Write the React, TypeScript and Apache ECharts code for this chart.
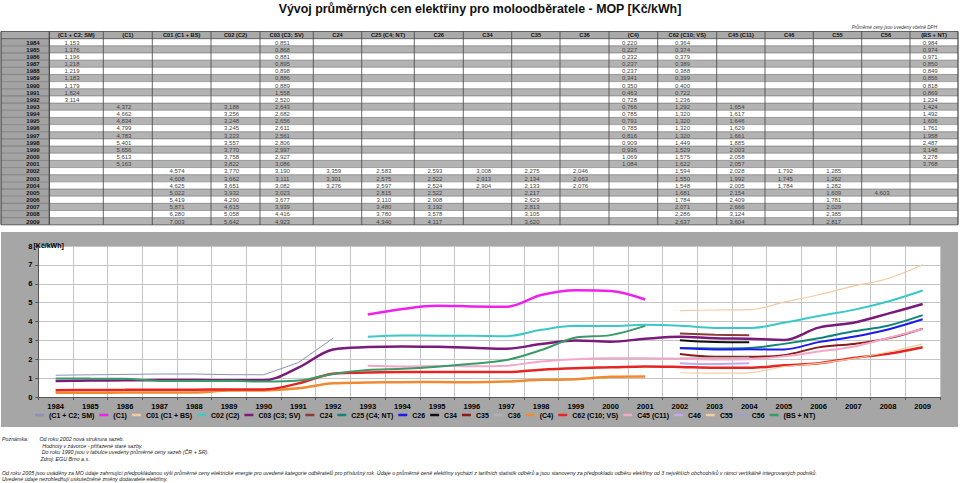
import React, { useEffect, useRef } from "react";
import * as echarts from "echarts";

const N = null;
const years = ["1984","1985","1986","1987","1988","1989","1990","1991","1992","1993","1994","1995","1996","1997","1998","1999","2000","2001","2002","2003","2004","2005","2006","2007","2008","2009"];
const yTicks = [0, 1, 2, 3, 4, 5, 6, 7, 8];

const seriesNames = ["(C1 + C2; SM)","(C1)","C01 (C1 + BS)","C02 (C2)","C03 (C3; SV)","C24","C25 (C4; NT)","C26","C34","C35","C36","(C4)","C62 (C10; VS)","C45 (C11)","C46","C55","C56","(BS + NT)"];

const sm   = [1.153,1.176,1.196,1.218,1.219,1.183,1.179,1.824,3.114,N,N,N,N,N,N,N,N,N,N,N,N,N,N,N,N,N];
const c1   = [N,N,N,N,N,N,N,N,N,4.372,4.662,4.834,4.799,4.783,5.401,5.656,5.613,5.163,N,N,N,N,N,N,N,N];
const c01  = [N,N,N,N,N,N,N,N,N,N,N,N,N,N,N,N,N,N,4.574,4.608,4.625,5.022,5.419,5.871,6.280,7.003];
const c02  = [N,N,N,N,N,N,N,N,N,3.188,3.256,3.248,3.245,3.223,3.557,3.770,3.758,3.822,3.770,3.662,3.651,3.932,4.290,4.615,5.058,5.642];
const c03  = [0.851,0.868,0.881,0.895,0.898,0.886,0.889,1.558,2.520,2.643,2.682,2.656,2.611,2.561,2.806,2.997,2.927,3.086,3.190,3.111,3.082,3.023,3.677,3.939,4.416,4.923];
const c24  = [N,N,N,N,N,N,N,N,N,N,N,N,N,N,N,N,N,N,3.359,3.301,3.276,N,N,N,N,N];
const c25  = [N,N,N,N,N,N,N,N,N,N,N,N,N,N,N,N,N,N,2.583,2.575,2.597,2.815,3.110,3.480,3.780,4.340];
const c26  = [N,N,N,N,N,N,N,N,N,N,N,N,N,N,N,N,N,N,2.593,2.522,2.524,2.522,2.908,3.192,3.578,4.117];
const c34  = [N,N,N,N,N,N,N,N,N,N,N,N,N,N,N,N,N,N,3.008,2.913,2.904,N,N,N,N,N];
const c35  = [N,N,N,N,N,N,N,N,N,N,N,N,N,N,N,N,N,N,2.275,2.134,2.133,2.217,2.629,2.813,3.105,3.620];
const c36  = [N,N,N,N,N,N,N,N,N,N,N,N,N,N,N,N,N,N,2.046,2.063,2.076,N,N,N,N,N];
const c4   = [0.220,0.227,0.232,0.237,0.237,0.341,0.350,0.463,0.728,0.766,0.785,0.791,0.785,0.816,0.909,0.936,1.069,1.084,N,N,N,N,N,N,N,N];
const c62  = [0.364,0.374,0.379,0.389,0.388,0.399,0.400,0.722,1.236,1.292,1.320,1.320,1.320,1.320,1.449,1.529,1.575,1.622,1.594,1.550,1.548,1.681,1.784,2.071,2.286,2.637];
const c45  = [N,N,N,N,N,N,N,N,N,1.654,1.617,1.646,1.629,1.661,1.885,2.003,2.058,2.057,2.028,1.992,2.005,2.154,2.409,2.666,3.124,3.604];
const c46  = [N,N,N,N,N,N,N,N,N,N,N,N,N,N,N,N,N,N,1.792,1.745,1.784,N,N,N,N,N];
const c55  = [N,N,N,N,N,N,N,N,N,N,N,N,N,N,N,N,N,N,1.285,1.262,1.282,1.609,1.781,2.029,2.385,2.817];
const c56  = [N,N,N,N,N,N,N,N,N,N,N,N,N,N,N,N,N,N,N,N,N,4.603,N,N,N,N];
const bsnt = [0.984,0.974,0.971,0.850,0.849,0.856,0.818,0.869,1.224,1.424,1.492,1.606,1.761,1.958,2.487,3.148,3.278,3.768,N,N,N,N,N,N,N,N];

const seriesData = [sm, c1, c01, c02, c03, c24, c25, c26, c34, c35, c36, c4, c62, c45, c46, c55, c56, bsnt];

const titleText = "Vývoj průměrných cen elektřiny pro moloodběratele - MOP [Kč/kWh]";
const dphNote = "Průměrné ceny jsou uvedeny včetně DPH";
const unitLabel = "[Kč/kWh]";
const noteLines = [
  "Od roku 2002 nová strukrura sazeb.",
  "Hodnoty v závorce - přiřazené staré sazby.",
  "Do roku 1990 jsou v tabulce uvedeny průměrné ceny sazeb (ČR + SR).",
  "Zdroj: EGU Brno a.s.",
];
const noteLabel = "Poznámka:";
const footLines = [
  "Od roku 2005 jsou uváděny za MO údaje zahrnující předpokládanou výši průměrné ceny elektrické energie pro uvedené kategorie odběratelů pro příslušný rok. Údaje o průměrné ceně elektřiny vychází z tarifních statistik odběrů a jsou stanoveny za předpokladu odběru elektřiny od 3 největších obchodníků v rámci vertikálně integrovaných podniků.",
  "Uvedené údaje nezohledňují uskutečněné změny dodavatele elektřiny.",
];

// styles (not data)
const colors = ["#8f8fb8","#ee22ee","#f7c9a0","#3cc8c8","#7a1a7a","#8b3a3a","#12857a","#1a1aee","#111111","#8b1a1a","#b0b0b0","#f08a30","#e52424","#f4a6c8","#c7a6ee","#f0cfa0","#a0a0c8","#3a9a68"];
const widths = [1, 2.5, 1.2, 2, 2.5, 2, 2, 2, 2, 2, 2, 2.5, 2.5, 2, 2, 1.2, 1, 2];
const smooths = [false, 0.35, 0.35, 0.35, 0.35, 0.35, 0.35, 0.35, 0.35, 0.35, 0.35, 0.35, 0.35, 0.35, 0.35, 0.35, 0.35, 0.35];

// table layout
const colEdges = [1, 49.3, 103.3, 152.3, 211, 260, 313.3, 361.7, 414.3, 463.3, 511.7, 560, 609, 657.7, 716.7, 765, 813.3, 861.7, 910, 958];
const tableTop = 31.5;
const rowH = 7.16;
const FONT = "'Liberation Sans', Arial, sans-serif";

function fmt(v: number) {
  return v.toFixed(3).replace(".", ",");
}

function buildGraphic() {
  const g: any[] = [];
  const nRows = years.length + 1;
  const tableW = colEdges[colEdges.length - 1] - colEdges[0];
  for (let r = 0; r < nRows; r++) {
    const y = tableTop + r * rowH;
    const fill = r === 0 ? "#a9a9a9" : (r % 2 === 0 ? "#b3b3b3" : "#ffffff");
    g.push({ type: "rect", z: -5, shape: { x: colEdges[0], y, width: tableW, height: rowH }, style: { fill } });
    if (r > 0) {
      g.push({ type: "rect", z: -5, shape: { x: colEdges[0], y, width: colEdges[1] - colEdges[0], height: rowH }, style: { fill: "#a3a3a3" } });
    }
  }
  for (let r = 0; r <= nRows; r++) {
    const y = tableTop + r * rowH;
    g.push({ type: "line", z: -4, shape: { x1: colEdges[0], y1: y, x2: colEdges[colEdges.length - 1], y2: y }, style: { stroke: "#555", lineWidth: r === 0 || r === nRows || r === 1 ? 0.9 : 0.5 } });
  }
  const tableBottom = tableTop + nRows * rowH;
  colEdges.forEach((x, i) => {
    g.push({ type: "line", z: -4, shape: { x1: x, y1: tableTop, x2: x, y2: tableBottom }, style: { stroke: "#444", lineWidth: i === 1 || i === 0 || i === colEdges.length - 1 ? 1.2 : 0.8 } });
  });
  seriesNames.forEach((name, c) => {
    const x0 = colEdges[c + 1], x1 = colEdges[c + 2];
    g.push({ type: "text", z: -3, x: (x0 + x1) / 2, y: tableTop + rowH / 2 + 0.3, style: { text: name, fontSize: 5.7, fontWeight: "bold", fontFamily: FONT, fill: "#111", align: "center", verticalAlign: "middle" } });
  });
  years.forEach((yr, r) => {
    const cy = tableTop + (r + 1) * rowH + rowH / 2 + 0.3;
    g.push({ type: "text", z: -3, x: 33, y: cy, style: { text: yr, fontSize: 6, fontWeight: "bold", fontFamily: FONT, fill: "#111", align: "center", verticalAlign: "middle" } });
    seriesData.forEach((arr, c) => {
      const v = arr[r];
      if (v === null || v === undefined) return;
      const x0 = colEdges[c + 1], x1 = colEdges[c + 2];
      g.push({ type: "text", z: -3, x: x0 + (x1 - x0) * 0.42, y: cy, style: { text: fmt(v), fontSize: 6, fontFamily: FONT, fill: "#444", align: "center", verticalAlign: "middle" } });
    });
  });
  g.push({ type: "text", x: 480, y: 9, style: { text: titleText, fontSize: 12.4, fontWeight: "bold", fontFamily: FONT, fill: "#111", align: "center", verticalAlign: "middle" } });
  g.push({ type: "text", x: 937, y: 27.7, style: { text: dphNote, fontSize: 4.6, fontStyle: "italic", fontFamily: FONT, fill: "#333", align: "right", verticalAlign: "middle" } });
  g.push({ type: "rect", z: -5, shape: { x: 1, y: 232, width: 957, height: 195 }, style: { fill: "#a6a6a6" } });
  g.push({ type: "text", z: 5, x: 33.5, y: 245.5, style: { text: unitLabel, fontSize: 7, fontWeight: "bold", fontFamily: FONT, fill: "#000", align: "left", verticalAlign: "middle" } });
  g.push({ type: "text", x: 2, y: 438.7, style: { text: noteLabel, fontSize: 5.3, fontStyle: "italic", fontFamily: FONT, fill: "#222", align: "left", verticalAlign: "middle" } });
  const noteX = [39.5, 42.3, 41.7, 40.5];
  const noteY = [438.7, 445.5, 452.3, 459];
  noteLines.forEach((t, i) => {
    g.push({ type: "text", x: noteX[i], y: noteY[i], style: { text: t, fontSize: 5.3, fontStyle: "italic", fontFamily: FONT, fill: "#222", align: "left", verticalAlign: "middle" } });
  });
  const footY = [472.7, 478.5];
  footLines.forEach((t, i) => {
    g.push({ type: "text", x: 2, y: footY[i], style: { text: t, fontSize: 5.3, fontStyle: "italic", fontFamily: FONT, fill: "#222", align: "left", verticalAlign: "middle" } });
  });
  return g;
}

export default function App() {
  const ref = useRef<HTMLDivElement>(null);
  useEffect(() => {
    if (!ref.current) return;
    document.body.style.margin = "0";
    const chart = echarts.init(ref.current, undefined, { renderer: "svg" });
    const option: any = {
      animation: false,
      backgroundColor: "#ffffff",
      textStyle: { fontFamily: FONT },
      grid: { left: 38.3, right: 20, top: 246, bottom: 86, show: true, backgroundColor: "#ffffff", borderWidth: 0, containLabel: false },
      legend: {
        left: 35,
        top: 411.5,
        padding: 0,
        itemWidth: 9,
        itemHeight: 2.5,
        itemGap: 5,
        icon: "rect",
        data: seriesNames,
        textStyle: { fontSize: 7, fontWeight: "bold", color: "#000", fontFamily: FONT },
      },
      xAxis: {
        type: "category",
        data: years,
        boundaryGap: true,
        axisLine: { show: true, lineStyle: { color: "#555", width: 1 } },
        axisTick: { show: true, length: 3, lineStyle: { color: "#555" } },
        axisLabel: { fontSize: 7.5, fontWeight: "bold", color: "#000", margin: 5, interval: 0 },
        splitLine: { show: true, lineStyle: { color: "#c4c4c4", width: 1 } },
      },
      yAxis: {
        type: "value",
        min: yTicks[0],
        max: yTicks[yTicks.length - 1],
        interval: 1,
        axisLine: { show: true, lineStyle: { color: "#555", width: 1 } },
        axisTick: { show: true, length: 3, lineStyle: { color: "#555" } },
        axisLabel: { fontSize: 7.5, fontWeight: "bold", color: "#000", margin: 6 },
        splitLine: { show: true, lineStyle: { color: "#c4c4c4", width: 1 } },
      },
      series: seriesNames.map((name, i) => ({
        name,
        type: "line",
        data: seriesData[i],
        smooth: smooths[i],
        showSymbol: false,
        symbol: "none",
        connectNulls: false,
        color: colors[i],
        lineStyle: { color: colors[i], width: widths[i] },
      })),
      graphic: buildGraphic(),
    };
    chart.setOption(option);
    return () => chart.dispose();
  }, []);
  return <div ref={ref} style={{ position: "absolute", left: 0, top: 0, width: 960, height: 483 }} />;
}
